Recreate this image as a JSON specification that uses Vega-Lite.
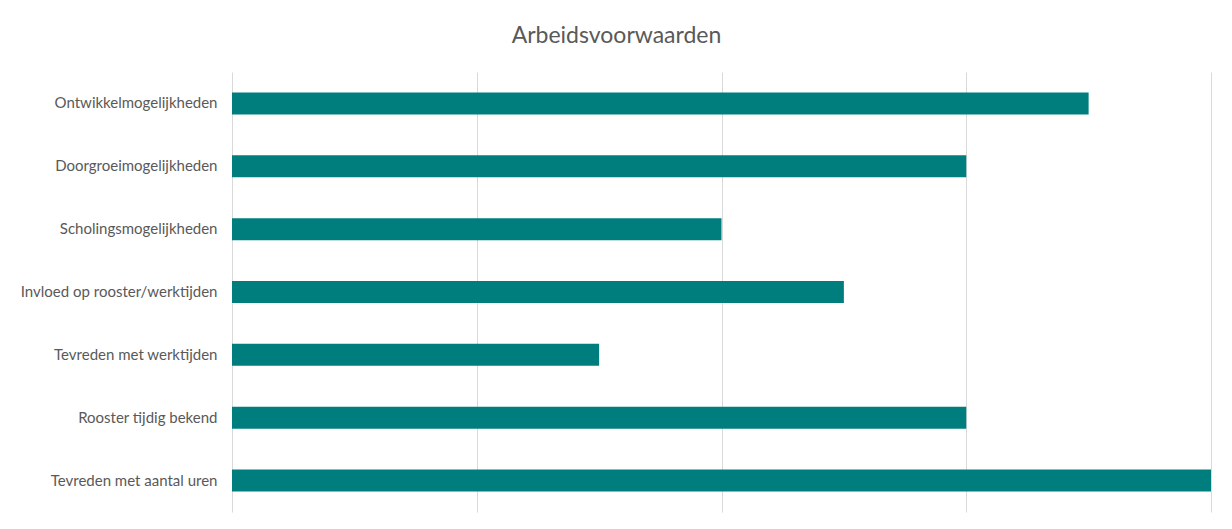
{
  "$schema": "https://vega.github.io/schema/vega-lite/v6.json",
  "width": 979,
  "height": 440,
  "autosize": {"type": "none"},
  "padding": {"left": 232, "top": 72, "right": 21, "bottom": 17},
  "background": "white",
  "title": {
    "text": "Arbeidsvoorwaarden",
    "font": "Lato",
    "fontSize": 23,
    "fontWeight": "normal",
    "color": "#595959",
    "anchor": "middle",
    "frame": "group",
    "dx": -105,
    "offset": 24
  },
  "data": {
    "values": [
      {"categorie": "Ontwikkelmogelijkheden", "waarde": 3.5},
      {"categorie": "Doorgroeimogelijkheden", "waarde": 3},
      {"categorie": "Scholingsmogelijkheden", "waarde": 2},
      {"categorie": "Invloed op rooster/werktijden", "waarde": 2.5},
      {"categorie": "Tevreden met werktijden", "waarde": 1.5},
      {"categorie": "Rooster tijdig bekend", "waarde": 3},
      {"categorie": "Tevreden met aantal uren", "waarde": 4}
    ]
  },
  "mark": {"type": "bar", "color": "#007E7E"},
  "encoding": {
    "y": {
      "field": "categorie",
      "type": "nominal",
      "sort": null,
      "title": null,
      "scale": {"paddingInner": 0.65, "paddingOuter": 0.325},
      "axis": {
        "domain": false,
        "ticks": false,
        "labelPadding": 15,
        "labelFont": "Lato",
        "labelFontSize": 15,
        "labelColor": "#595959",
        "labelLimit": 300
      }
    },
    "x": {
      "field": "waarde",
      "type": "quantitative",
      "title": null,
      "scale": {"domain": [0, 4], "nice": false},
      "axis": {
        "values": [0, 1, 2, 3, 4],
        "labels": false,
        "ticks": false,
        "domain": false,
        "grid": true,
        "gridColor": "#D9D9D9",
        "gridWidth": 1
      }
    }
  },
  "config": {"view": {"stroke": null}}
}
